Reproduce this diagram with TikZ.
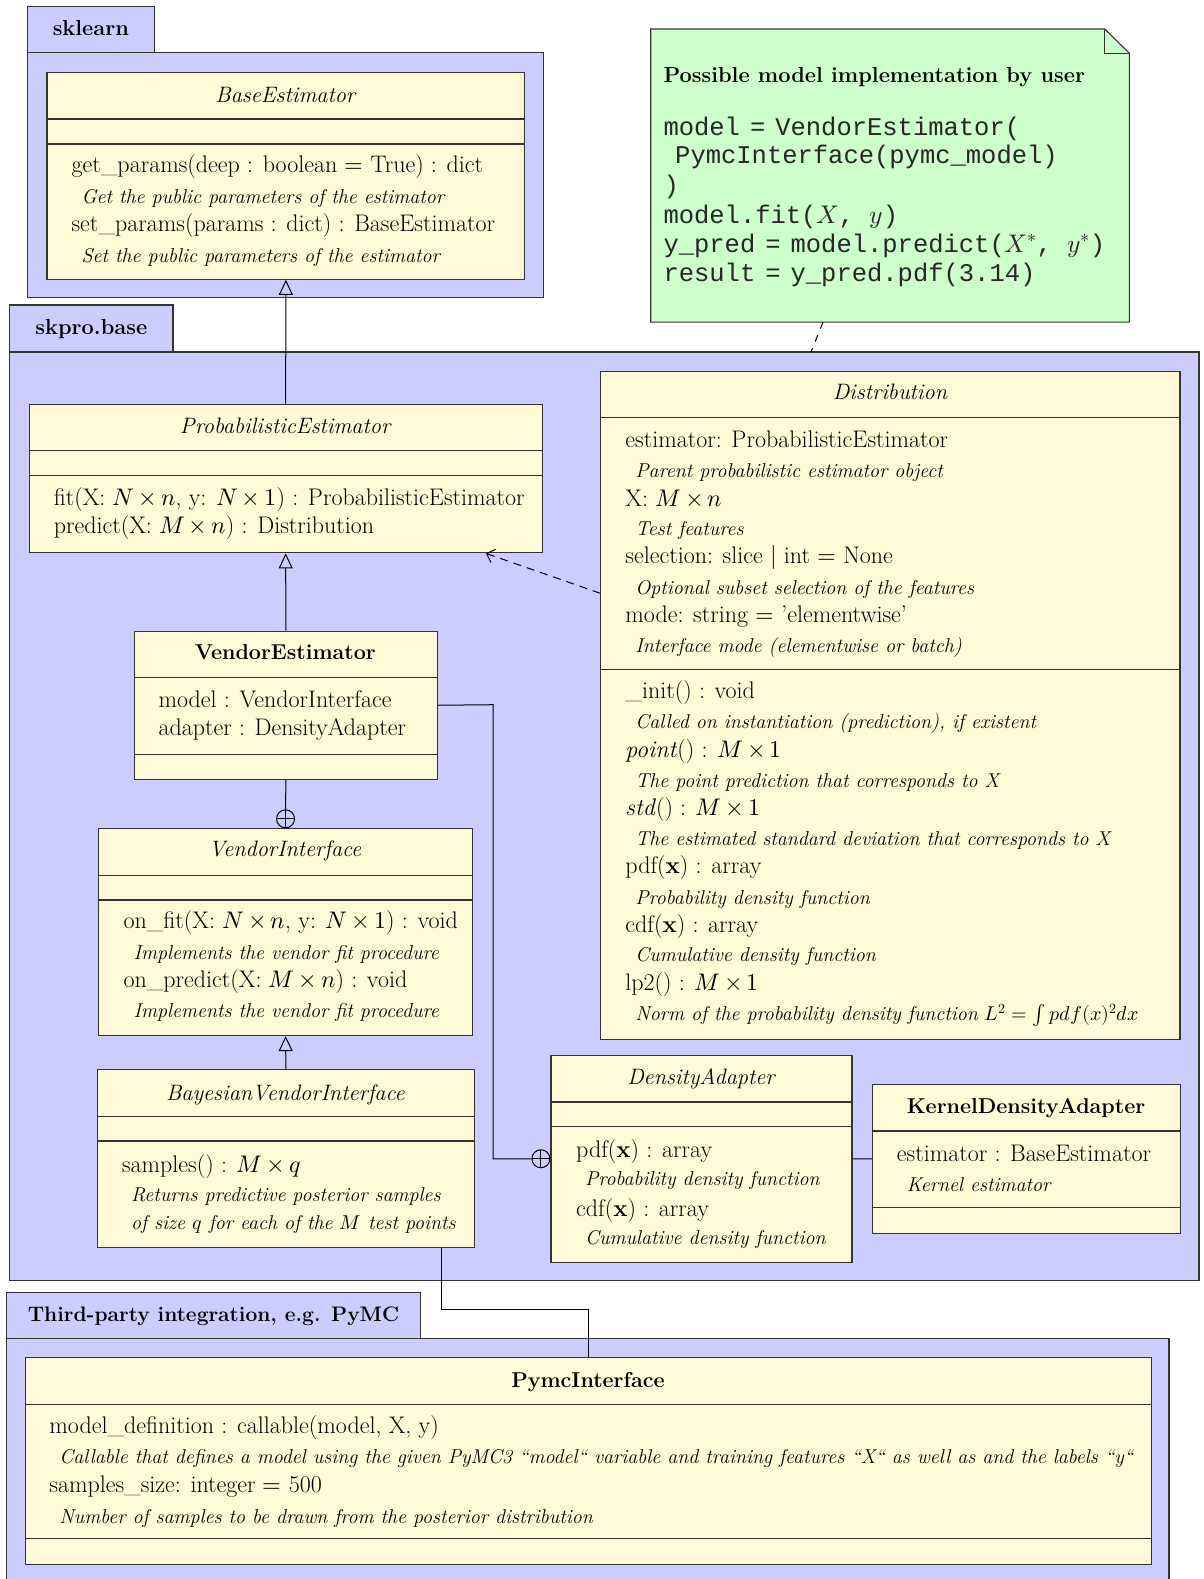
\documentclass[tikz,border=0pt]{standalone}
\usepackage{fontspec}
\usepackage{unicode-math}
\setmathfont{Latin Modern Math}
\setmonofont{Liberation Mono}
\usetikzlibrary{arrows.meta,calc}
\definecolor{pkgc}{HTML}{CCCCFF}
\definecolor{clsc}{HTML}{FEFAD8}
\definecolor{notec}{HTML}{CCFFCC}
\definecolor{lc}{HTML}{333333}
\newcommand\eqk{\kern10pt=\kern10pt}
\tikzset{
 pkg/.style={draw=lc, fill=pkgc, line width=1.1pt},
 cls/.style={draw=lc, fill=clsc, line width=1.1pt, inner sep=0pt, anchor=north west},
 sepl/.style={draw=lc, line width=1.1pt},
 txt/.style={anchor=mid west, inner sep=0pt, yshift=-5pt, font=\fontsize{24}{28}\selectfont},
 cmt/.style={anchor=mid west, inner sep=0pt, yshift=-5pt, font=\fontsize{20}{24}\selectfont\itshape},
 hdr/.style={anchor=mid, inner sep=0pt, yshift=-5pt, font=\fontsize{22.3}{26}\selectfont\itshape},
 hdrb/.style={anchor=mid, inner sep=0pt, yshift=-5pt, font=\fontsize{21.5}{26}\selectfont\bfseries},
 tabt/.style={anchor=mid, inner sep=0pt, yshift=-4pt, font=\fontsize{21.8}{26}\selectfont\bfseries},
 code/.style={anchor=mid west, inner sep=0pt, yshift=-5pt, text=black!85, font=\fontsize{25.5}{29}\selectfont\ttfamily},
 conn/.style={draw=black, line width=1pt},
 inh/.style={conn, -{Triangle[open, length=15pt, width=14pt]}},
 dep/.style={conn, dash pattern=on 8pt off 6pt, -{Straight Barb[length=7pt, width=14pt]}},
 oplus/.style={circle, draw=black, line width=1pt, minimum size=18pt, inner sep=0pt,
   path picture={\draw[line width=1pt] (path picture bounding box.north) -- (path picture bounding box.south)
     (path picture bounding box.west) -- (path picture bounding box.east);}},
}
\begin{document}
\begin{tikzpicture}[x=1pt,y=-1pt]
\medmuskip=3mu
\useasboundingbox (0,0) rectangle (1204,1579);
\fill[white] (0,0) rectangle (1204,1579);

% ---------- packages ----------
\draw[pkg] (27.5,6.7) rectangle (154.3,52.7);
\draw[pkg] (27.5,52.7) rectangle (543.6,297.7);
\node[tabt] (tsk) at (90.9,29.7) {sklearn};

\draw[pkg] (9.6,305) rectangle (173,352);
\draw[pkg] (9.6,352) rectangle (1199,1280.7);
\node[tabt] (tsp) at (91.3,328) {skpro.base};

\draw[pkg] (6.1,1292.3) rectangle (420.9,1338.3);
\draw[pkg] (6.1,1338.3) rectangle (1169,1590);
\node[tabt, font=\fontsize{21}{26}\selectfont\bfseries] (ttp) at (213.5,1315) {Third-party integration, e.g. PyMC};

% ---------- note ----------
\node[inner sep=0pt, minimum width=478.3pt, minimum height=292.7pt, anchor=north west] (note) at (650.7,29) {};
\draw[draw=lc, fill=notec, line width=1.1pt] (note.north west) -- ([xshift=-24.7pt]note.north east)
  -- ([yshift=-24.3pt]note.north east) -- (note.south east) -- (note.south west) -- cycle;
\draw[draw=lc, line width=1.1pt] ([xshift=-24.7pt]note.north east) -- ([xshift=-24.7pt,yshift=-24.3pt]note.north east)
  -- ([yshift=-24.3pt]note.north east);
\node[anchor=mid west, inner sep=0pt, yshift=-5pt, font=\fontsize{21.8}{26}\selectfont\bfseries] (nt) at (663.3,75) {Possible model implementation by user};
\node[code] (c1) at (663.3,128.3) {model\eqk VendorEstimator(};
\node[code] (c2) at (675,156.7) {PymcInterface(pymc\_model)};
\node[code] (c3) at (663.3,186.7) {)};
\node[code] (c4) at (663.3,216.7) {model.fit($X$, $y$)};
\node[code] (c5) at (663.3,245) {y\_pred\eqk model.predict($X^{*}$, $y^{*}$)};
\node[code] (c6) at (663.3,274) {result\eqk y\_pred.pdf(3.14)};

% ---------- BaseEstimator ----------
\node[cls, minimum width=477.9pt, minimum height=207pt] (be) at (46.4,71.7) {};
\draw[sepl] (be.west |- 0,119) -- (be.east |- 0,119);
\draw[sepl] (be.west |- 0,144) -- (be.east |- 0,144);
\node[hdr] (beh) at (285.3,95) {BaseEstimator};
\node[txt] (be1) at (71.4,165.7) {get\_params(deep : boolean $=$ True) : dict};
\node[cmt] (be2) at (81.4,196.7) {Get the public parameters of the estimator};
\node[txt] (be3) at (71.4,224) {set\_params(params : dict) : BaseEstimator};
\node[cmt] (be4) at (81.4,255) {Set the public parameters of the estimator};

% ---------- ProbabilisticEstimator ----------
\node[cls, minimum width=512.8pt, minimum height=148.6pt] (pe) at (28.7,403.7) {};
\draw[sepl] (pe.west |- 0,450.3) -- (pe.east |- 0,450.3);
\draw[sepl] (pe.west |- 0,475.3) -- (pe.east |- 0,475.3);
\node[hdr] (peh) at (285.1,426) {ProbabilisticEstimator};
\node[txt] (pe1) at (53.6,498.3) {fit(X: $N \times n$, y: $N \times 1$) : ProbabilisticEstimator};
\node[txt] (pe2) at (53.6,526.7) {predict(X: $M \times n$) : Distribution};

% ---------- Distribution ----------
\node[cls, minimum width=579.1pt, minimum height=668pt] (di) at (600.3,371) {};
\draw[sepl] (di.west |- 0,417.7) -- (di.east |- 0,417.7);
\draw[sepl] (di.west |- 0,669.3) -- (di.east |- 0,669.3);
\node[hdr] (dih) at (889.9,392.7) {Distribution};
\node[txt] (d1) at (625.2,440.7) {estimator: ProbabilisticEstimator};
\node[cmt] (d2) at (635.2,470) {Parent probabilistic estimator object};
\node[txt] (d3) at (625.2,499) {X: $M \times n$};
\node[cmt] (d4) at (635.2,528.3) {Test features};
\node[txt] (d5) at (625.2,556.7) {selection: slice $\mid$ int $=$ None};
\node[cmt] (d6) at (635.2,587.7) {Optional subset selection of the features};
\node[txt] (d7) at (625.2,615.3) {mode: string $=$ 'elementwise'};
\node[cmt] (d8) at (635.2,645) {Interface mode (elementwise or batch)};
\node[txt] (d9) at (625.2,691) {\_init() : void};
\node[cmt] (d10) at (635.2,721.8) {Called on instantiation (prediction), if existent};
\node[txt] (d11) at (625.2,750) {\textit{point}() : $M \times 1$};
\node[cmt] (d12) at (635.2,780.2) {The point prediction that corresponds to X};
\node[txt] (d13) at (625.2,808.4) {\textit{std}() : $M \times 1$};
\node[cmt] (d14) at (635.2,838.6) {The estimated standard deviation that corresponds to X};
\node[txt] (d15) at (625.2,866.8) {pdf(\textbf{x}) : array};
\node[cmt] (d16) at (635.2,897) {Probability density function};
\node[txt] (d17) at (625.2,925.2) {cdf(\textbf{x}) : array};
\node[cmt] (d18) at (635.2,954.4) {Cumulative density function};
\node[txt] (d19) at (625.2,983.5) {lp2() : $M \times 1$};
\node[cmt] (d20) at (635.2,1013.7) {Norm of the probability density function $L^2 = \int pdf(x)^2 dx$};

% ---------- VendorEstimator ----------
\node[cls, minimum width=302.7pt, minimum height=148pt] (ve) at (134,630.7) {};
\draw[sepl] (ve.west |- 0,677.7) -- (ve.east |- 0,677.7);
\draw[sepl] (ve.west |- 0,754.3) -- (ve.east |- 0,754.3);
\node[hdrb] (veh) at (285.3,652.7) {VendorEstimator};
\node[txt] (ve1) at (158.3,700) {model : VendorInterface};
\node[txt] (ve2) at (158.3,728.3) {adapter : DensityAdapter};

% ---------- VendorInterface ----------
\node[cls, minimum width=373.4pt, minimum height=206.7pt] (vi) at (98.3,828.3) {};
\draw[sepl] (vi.west |- 0,875.3) -- (vi.east |- 0,875.3);
\draw[sepl] (vi.west |- 0,900) -- (vi.east |- 0,900);
\node[hdr] (vih) at (285,849.3) {VendorInterface};
\node[txt] (vi1) at (123.3,921.7) {on\_fit(X: $N \times n$, y: $N \times 1$) : void};
\node[cmt] (vi2) at (133.3,952.3) {Implements the vendor fit procedure};
\node[txt] (vi3) at (123.3,980) {on\_predict(X: $M \times n$) : void};
\node[cmt] (vi4) at (133.3,1010) {Implements the vendor fit procedure};

% ---------- BayesianVendorInterface ----------
\node[cls, minimum width=377.1pt, minimum height=178pt] (bv) at (96.8,1069.3) {};
\draw[sepl] (bv.west |- 0,1116.3) -- (bv.east |- 0,1116.3);
\draw[sepl] (bv.west |- 0,1141) -- (bv.east |- 0,1141);
\node[hdr] (bvh) at (285.3,1093.3) {BayesianVendorInterface};
\node[txt] (bv1) at (121.8,1165.7) {samples() : $M \times q$};
\node[cmt] (bv2) at (131,1194.3) {Returns predictive posterior samples};
\node[cmt] (bv3) at (131,1222.7) {of size $q$ for each of the $M$ test points};

% ---------- DensityAdapter ----------
\node[cls, minimum width=301pt, minimum height=207pt] (da) at (550.4,1054.7) {};
\draw[sepl] (da.west |- 0,1102) -- (da.east |- 0,1102);
\draw[sepl] (da.west |- 0,1126.7) -- (da.east |- 0,1126.7);
\node[hdr] (dah) at (700.9,1077.3) {DensityAdapter};
\node[txt] (da1) at (576,1150) {pdf(\textbf{x}) : array};
\node[cmt] (da2) at (585,1178.3) {Probability density function};
\node[txt] (da3) at (576,1209) {cdf(\textbf{x}) : array};
\node[cmt] (da4) at (585,1237.7) {Cumulative density function};

% ---------- KernelDensityAdapter ----------
\node[cls, minimum width=308pt, minimum height=148.7pt] (kd) at (872,1084) {};
\draw[sepl] (kd.west |- 0,1131) -- (kd.east |- 0,1131);
\draw[sepl] (kd.west |- 0,1207.3) -- (kd.east |- 0,1207.3);
\node[hdrb] (kdh) at (1026,1106.7) {KernelDensityAdapter};
\node[txt] (kd1) at (896.7,1154.3) {estimator : BaseEstimator};
\node[cmt] (kd2) at (906.7,1184) {Kernel estimator};

% ---------- PymcInterface ----------
\node[cls, minimum width=1125.2pt, minimum height=206.7pt] (pm) at (25.3,1357.3) {};
\draw[sepl] (pm.west |- 0,1404.3) -- (pm.east |- 0,1404.3);
\draw[sepl] (pm.west |- 0,1538.7) -- (pm.east |- 0,1538.7);
\node[hdrb] (pmh) at (587.9,1380) {PymcInterface};
\node[txt] (pm1) at (49.2,1426.7) {model\_definition : callable(model, X, y)};
\node[cmt] (pm2) at (59.1,1456.7) {Callable that defines a model using the given PyMC3 “model“ variable and training features “X“ as well as and the labels “y“};
\node[txt] (pm3) at (49.2,1485) {samples\_size: integer $=$ 500};
\node[cmt] (pm4) at (59.1,1516.7) {Number of samples to be drawn from the posterior distribution};

% ---------- connectors ----------
\node[oplus, anchor=south] (op1) at (vi.north) {};
\node[oplus, anchor=east] (op2) at (da.west) {};
\coordinate (pkgpt) at (811,352);

\draw[inh] (pe.north) -- (be.south);
\draw[inh] (ve.north) -- (pe.south);
\draw[inh] (bv.north) -- (vi.south);
\draw[conn] (ve.south) -- (op1.north);
\draw[conn] (ve.east) -- (493,704.7) |- (op2.west);
\draw[conn] (da.east) -- (kd.west);
\draw[conn] (bv.south -| 441,0) -- (441,1309.3) -| (pm.north);
\draw[dep] (di.west |- 0,593.3) -- (pe.south -| 486,0);
\draw[conn, dash pattern=on 7pt off 7pt] (note.south -| 823,0) -- (pkgpt);
\end{tikzpicture}
\end{document}
